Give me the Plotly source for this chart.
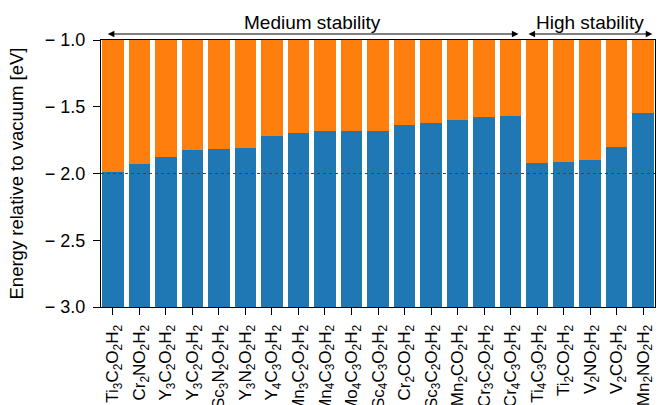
import plotly.graph_objects as go

labels = ["Ti<sub>3</sub>C<sub>2</sub>O<sub>2</sub>H<sub>2</sub>",
          "Cr<sub>2</sub>NO<sub>2</sub>H<sub>2</sub>",
          "Y<sub>3</sub>C<sub>2</sub>O<sub>2</sub>H<sub>2</sub>",
          "Y<sub>3</sub>C<sub>2</sub>O<sub>2</sub>H<sub>2</sub>",
          "Sc<sub>3</sub>N<sub>2</sub>O<sub>2</sub>H<sub>2</sub>",
          "Y<sub>3</sub>N<sub>2</sub>O<sub>2</sub>H<sub>2</sub>",
          "Y<sub>4</sub>C<sub>3</sub>O<sub>2</sub>H<sub>2</sub>",
          "Mn<sub>3</sub>C<sub>2</sub>O<sub>2</sub>H<sub>2</sub>",
          "Mn<sub>4</sub>C<sub>3</sub>O<sub>2</sub>H<sub>2</sub>",
          "Mo<sub>4</sub>C<sub>3</sub>O<sub>2</sub>H<sub>2</sub>",
          "Sc<sub>4</sub>C<sub>3</sub>O<sub>2</sub>H<sub>2</sub>",
          "Cr<sub>2</sub>CO<sub>2</sub>H<sub>2</sub>",
          "Sc<sub>3</sub>C<sub>2</sub>O<sub>2</sub>H<sub>2</sub>",
          "Mn<sub>2</sub>CO<sub>2</sub>H<sub>2</sub>",
          "Cr<sub>3</sub>C<sub>2</sub>O<sub>2</sub>H<sub>2</sub>",
          "Cr<sub>4</sub>C<sub>3</sub>O<sub>2</sub>H<sub>2</sub>",
          "Ti<sub>4</sub>C<sub>3</sub>O<sub>2</sub>H<sub>2</sub>",
          "Ti<sub>2</sub>CO<sub>2</sub>H<sub>2</sub>",
          "V<sub>2</sub>NO<sub>2</sub>H<sub>2</sub>",
          "V<sub>2</sub>CO<sub>2</sub>H<sub>2</sub>",
          "Mn<sub>2</sub>NO<sub>2</sub>H<sub>2</sub>"]

# band edge energies (eV) separating lower (blue) and upper (orange) regions
values = [-1.99, -1.93, -1.875, -1.825, -1.818, -1.81, -1.718, -1.70, -1.685,
          -1.685, -1.678, -1.638, -1.623, -1.60, -1.573, -1.57, -1.925,
          -1.913, -1.90, -1.805, -1.548]

y_min = -3.0
y_max = -1.0
ytick_vals = [-3.0, -2.5, -2.0, -1.5, -1.0]
ytick_text = ["\u2212 3.0", "\u2212 2.5", "\u2212 2.0", "\u2212 1.5", "\u2212 1.0"]
ref_level = -2.0

groups = [("Medium stability", -0.25, 15.3), ("High stability", 15.62, 20.35)]

x = list(range(len(values)))
blue = "#1f77b4"
orange = "#ff7f0e"

fig = go.Figure()
fig.add_trace(go.Bar(x=x, y=[v - y_min for v in values], base=[y_min] * len(values),
                     width=0.8, marker=dict(color=blue, line=dict(width=0)),
                     showlegend=False))
fig.add_trace(go.Bar(x=x, y=[y_max - v for v in values], base=values,
                     width=0.8, marker=dict(color=orange, line=dict(width=0)),
                     showlegend=False))

fig.add_shape(type="line", xref="paper", yref="y", x0=0, x1=1, y0=ref_level, y1=ref_level,
              line=dict(color="#444444", width=1, dash="dot"), layer="above")

font = "Liberation Sans, Arial, sans-serif"
for name, a, b in groups:
    fig.add_annotation(x=b, y=1.0225, xref="x", yref="paper",
                       ax=a, ay=0, axref="x", ayref="pixel",
                       showarrow=True, arrowside="end+start", arrowhead=2,
                       arrowsize=1.1, arrowwidth=1.2, arrowcolor="black",
                       standoff=0, startstandoff=0, text="")
    fig.add_annotation(x=(a + b) / 2, y=1.067, xref="x", yref="paper",
                       text=name, showarrow=False, yanchor="middle",
                       font=dict(size=19, color="black", family=font))

fig.update_layout(
    width=658, height=405,
    margin=dict(l=101, r=3, t=40, b=98),
    paper_bgcolor="white", plot_bgcolor="white",
    barmode="overlay", bargap=0,
    font=dict(family=font, color="black"),
    xaxis=dict(range=[-0.45, 20.45], tickmode="array", tickvals=x, ticktext=labels,
               tickangle=-90, ticks="outside", ticklen=7, tickwidth=1.2, tickcolor="black",
               showline=True, linecolor="black", linewidth=1.2, mirror=True,
               showgrid=False, zeroline=False, tickfont=dict(size=17), automargin=False,
               ticklabelstandoff=3),
    yaxis=dict(range=[y_min, y_max], tickmode="array", tickvals=ytick_vals, ticktext=ytick_text,
               ticks="outside", ticklen=7, tickwidth=1.2, tickcolor="black",
               showline=True, linecolor="black", linewidth=1.2, mirror=True,
               showgrid=False, zeroline=False, tickfont=dict(size=18), automargin=False,
               ticklabelstandoff=4,
               title=dict(text="Energy relative to vacuum [eV]", font=dict(size=18.5), standoff=16)),
)

fig.write_html("out.html", config={"displayModeBar": False},
               post_script="document.body.style.margin='0';document.body.style.overflow='hidden';")
